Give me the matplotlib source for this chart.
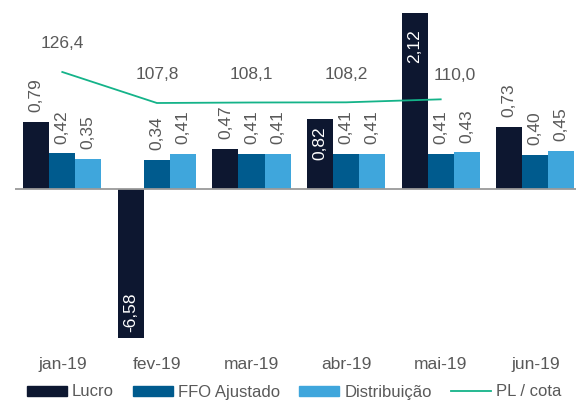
import numpy as np
import matplotlib
matplotlib.use("Agg")
import matplotlib.pyplot as plt
from matplotlib.patches import Patch
from matplotlib.lines import Line2D

plt.rcParams["font.family"] = ["Liberation Sans", "DejaVu Sans"]

months = ["jan-19", "fev-19", "mar-19", "abr-19", "mai-19", "jun-19"]
lucro = [0.79, -6.58, 0.47, 0.82, 2.12, 0.73]
ffo = [0.42, 0.34, 0.41, 0.41, 0.41, 0.40]
distrib = [0.35, 0.41, 0.41, 0.41, 0.43, 0.45]
pl_cota = [126.4, 107.8, 108.1, 108.2, 110.0]

c_lucro = "#0d1730"
c_ffo = "#005b8e"
c_dist = "#3fa6dc"
c_line = "#14b389"
grey = "#595959"
fs = 12.5

fig = plt.figure(figsize=(5.76, 4.03), dpi=100)
ax = fig.add_axes([15 / 576, 65 / 403, 567.6 / 576, 325 / 403])
ylo, yhi = -1.753, 2.07
ax.set_ylim(ylo, yhi)
ax.set_xlim(-0.5, 5.5)

x = np.arange(len(months))
w = 0.275
series = [(lucro, c_lucro, "Lucro"), (ffo, c_ffo, "FFO Ajustado"), (distrib, c_dist, "Distribuição")]
# (series, month) -> label inside the bar, white
inside = {(0, 1), (0, 3), (0, 4)}

for si, (vals, col, name) in enumerate(series):
    xs = x + (si - 1) * w
    ax.bar(xs, vals, width=w, color=col, zorder=2)
    for mi, v in enumerate(vals):
        txt = f"{v:.2f}".replace(".", ",")
        if (si, mi) in inside:
            end = min(max(v, ylo), yhi)
            if v > 0:
                off = -12 if end == yhi else -5
                ax.annotate(txt, (xs[mi], end), xytext=(0, off), textcoords="offset points",
                            rotation=90, ha="center", va="top", color="white", fontsize=fs)
            else:
                ax.annotate(txt, (xs[mi], end), xytext=(0, 4), textcoords="offset points",
                            rotation=90, ha="center", va="bottom", color="white", fontsize=fs)
        else:
            ax.annotate(txt, (xs[mi], v), xytext=(0, 7), textcoords="offset points",
                        rotation=90, ha="center", va="bottom", color=grey, fontsize=fs)

ax.axhline(0, color="#9a9a9a", lw=1.3, zorder=3)
for s in ax.spines.values():
    s.set_visible(False)
ax.set_yticks([])
ax.set_xticks(x)
ax.set_xticklabels(months, color=grey, fontsize=fs)
ax.tick_params(axis="x", length=0, pad=14)

ax2 = ax.twinx()
ax2.set_ylim(-33.2, 161.8)
ax2.set_yticks([])
for s in ax2.spines.values():
    s.set_visible(False)
xl = x[:len(pl_cota)]
ax2.plot(xl, pl_cota, color=c_line, lw=1.3)
label_dx = [0, 0, 0, 0, 10]
for i, v in enumerate(pl_cota):
    dy = 15 if i < 4 else 12
    ax2.annotate(f"{v:.1f}".replace(".", ","), (xl[i], v), xytext=(label_dx[i], dy),
                 textcoords="offset points", ha="center", va="bottom", color=grey, fontsize=fs)

handles = [Patch(color=c_lucro), Patch(color=c_ffo), Patch(color=c_dist),
           Line2D([], [], color=c_line, lw=1.3)]
labels = ["Lucro", "FFO Ajustado", "Distribuição", "PL / cota"]
leg = fig.legend(handles, labels, loc="center left", bbox_to_anchor=(27 / 576, 11 / 403),
                 ncol=4, frameon=False, fontsize=12, handlelength=2.4, handleheight=0.55,
                 handletextpad=0.3, columnspacing=1.15, borderpad=0, borderaxespad=0)
for t in leg.get_texts():
    t.set_color(grey)

fig.savefig("out.png", dpi=100)
